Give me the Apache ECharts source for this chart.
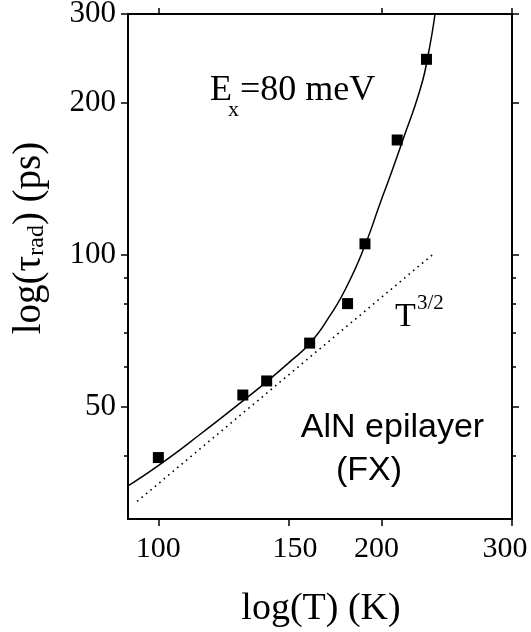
<!DOCTYPE html>
<html>
<head>
<meta charset="utf-8">
<script src="https://cdn.jsdelivr.net/npm/echarts@6/dist/echarts.min.js"></script>
<style>
html,body{margin:0;padding:0;background:#fff;}
#chart{width:531px;height:632px;}
</style>
</head>
<body>
<div id="chart"></div>
<script>
// Measured data points
var tempK = [100, 130, 140, 160, 180, 190, 210, 230];
var tauPs = [39.7, 52.8, 56.3, 66.9, 80.1, 105.2, 168.9, 244];
// Fit curve (solid line)
var fitT   = [91, 100.3, 114, 130.4, 140.6, 150, 160.2, 170.4, 179.4, 190, 199.1, 205.3, 213.7, 225.4, 230.6, 236.2];
var fitTau = [34.9, 38.4, 44.2, 51.6, 56.4, 61.2, 66.9, 75.8, 86.4, 104.5, 126.5, 142.9, 168.9, 212.2, 244, 300];
// T^(3/2) reference line (dotted)
var refT   = [93.6, 235.5];
var refTau = [32.5, 100.7];
// Ticks
var xTicks = [100, 150, 200, 300];
var xTopTicks = [100, 200, 300];
var yTicks = [50, 100, 200, 300];
var yMinorTicks = [40, 60, 70, 80, 90];

function zip(a, b) { return a.map(function (v, i) { return [v, b[i]]; }); }

var SERIF = 'Liberation Serif';
var SANS = 'Liberation Sans';
var axisLineStyle = { color: '#000', width: 2 };
var tickStyle = { color: '#000', width: 1.5 };
var xLabelStyleKey = { 100: 'c', 150: 'r', 200: 'l', 300: 'll' };
var xLabRich = {
  c:  { fontFamily: SERIF, fontSize: 30, color: '#000' },
  r:  { fontFamily: SERIF, fontSize: 30, color: '#000', padding: [0, 0, 0, 12] },
  l:  { fontFamily: SERIF, fontSize: 30, color: '#000', padding: [0, 10, 0, 0] },
  ll: { fontFamily: SERIF, fontSize: 30, color: '#000', padding: [0, 14, 0, 0] }
};

var chart = echarts.init(document.getElementById('chart'), null, { renderer: 'canvas' });
chart.setOption({
  animation: false,
  backgroundColor: '#fff',
  grid: { left: 128, right: 19, top: 14, bottom: 113, containLabel: false, outerBoundsMode: 'none' },
  xAxis: [
    {
      type: 'log', logBase: 10, min: 91, max: 300, position: 'bottom',
      axisLine: { show: true, lineStyle: axisLineStyle },
      axisTick: { show: true, length: 7, customValues: xTicks, lineStyle: tickStyle },
      axisLabel: {
        show: true, customValues: xTicks, fontFamily: SERIF, fontSize: 30, color: '#000', margin: 15,
        formatter: function (v) {
          var k = xLabelStyleKey[Math.round(v)] || 'c';
          return '{' + k + '|' + Math.round(v) + '}';
        },
        rich: xLabRich
      },
      splitLine: { show: false }, minorTick: { show: false }
    },
    {
      type: 'log', logBase: 10, min: 91, max: 300, position: 'top',
      axisLine: { show: true, lineStyle: axisLineStyle },
      axisTick: { show: true, length: 6, customValues: xTopTicks, lineStyle: tickStyle },
      axisLabel: { show: false },
      splitLine: { show: false }
    }
  ],
  yAxis: [
    {
      type: 'log', logBase: 10, min: 30, max: 300, position: 'left',
      axisLine: { show: true, lineStyle: axisLineStyle },
      axisTick: { show: true, length: 7, customValues: yTicks, lineStyle: tickStyle },
      axisLabel: { show: true, customValues: yTicks, fontFamily: SERIF, fontSize: 31, color: '#000', margin: 12 },
      splitLine: { show: false }
    },
    {
      type: 'log', logBase: 10, min: 30, max: 300, position: 'right',
      axisLine: { show: true, lineStyle: axisLineStyle },
      axisTick: { show: true, length: 7, customValues: yTicks, lineStyle: tickStyle },
      axisLabel: { show: false },
      splitLine: { show: false }
    },
    {
      type: 'log', logBase: 10, min: 30, max: 300, position: 'left',
      axisLine: { show: false },
      axisTick: { show: true, length: 4, customValues: yMinorTicks, lineStyle: tickStyle },
      axisLabel: { show: false },
      splitLine: { show: false }
    },
    {
      type: 'log', logBase: 10, min: 30, max: 300, position: 'right',
      axisLine: { show: false },
      axisTick: { show: true, length: 4, customValues: yMinorTicks, lineStyle: tickStyle },
      axisLabel: { show: false },
      splitLine: { show: false }
    }
  ],
  series: [
    {
      type: 'line', data: zip(refT, refTau), showSymbol: false, symbol: 'none',
      lineStyle: { color: '#000', width: 1.6, type: [1.6, 4.2] }, z: 2
    },
    {
      type: 'line', data: zip(fitT, fitTau), showSymbol: false, symbol: 'none', smooth: 0.55,
      lineStyle: { color: '#000', width: 1.5 }, z: 3
    },
    {
      type: 'scatter', data: zip(tempK, tauPs), symbol: 'rect', symbolSize: 11,
      itemStyle: { color: '#000', opacity: 1 }, z: 4
    }
  ],
  graphic: [
    { type: 'text', x: 321, y: 609, style: { text: 'log(T) (K)', fontFamily: SERIF, fontSize: 38, fill: '#000', textAlign: 'center', textVerticalAlign: 'middle' } },
    { type: 'text', x: 29.5, y: 238, rotation: Math.PI / 2,
      style: {
        text: '{a|log(τ}{s|rad}{a|) (ps)}',
        textAlign: 'center', textVerticalAlign: 'middle', fill: '#000',
        rich: {
          a: { fontFamily: SERIF, fontSize: 39, lineHeight: 39, verticalAlign: 'top', fill: '#000' },
          s: { fontFamily: SERIF, fontSize: 24, lineHeight: 24, verticalAlign: 'bottom', padding: [20.6, 0, 0, 0], fill: '#000' }
        }
      } },
    { type: 'text', x: 210, y: 91, style: { text: 'E', fontFamily: SERIF, fontSize: 36, fill: '#000', textAlign: 'left', textVerticalAlign: 'middle' } },
    { type: 'text', x: 228, y: 110, style: { text: 'x', fontFamily: SERIF, fontSize: 22, fill: '#000', textAlign: 'left', textVerticalAlign: 'middle' } },
    { type: 'text', x: 240, y: 91, style: { text: '=80 meV', fontFamily: SERIF, fontSize: 36, fill: '#000', textAlign: 'left', textVerticalAlign: 'middle' } },
    { type: 'text', x: 395, y: 317.5, style: { text: 'T', fontFamily: SERIF, fontSize: 34, fill: '#000', textAlign: 'left', textVerticalAlign: 'middle' } },
    { type: 'text', x: 417, y: 303, style: { text: '3/2', fontFamily: SERIF, fontSize: 21, fill: '#000', textAlign: 'left', textVerticalAlign: 'middle' } },
    { type: 'text', x: 392.5, y: 428, style: { text: 'AlN epilayer', fontFamily: SANS, fontSize: 34, fill: '#000', textAlign: 'center', textVerticalAlign: 'middle' } },
    { type: 'text', x: 369, y: 471, style: { text: '(FX)', fontFamily: SANS, fontSize: 34, fill: '#000', textAlign: 'center', textVerticalAlign: 'middle' } }
  ]
});
</script>
</body>
</html>
